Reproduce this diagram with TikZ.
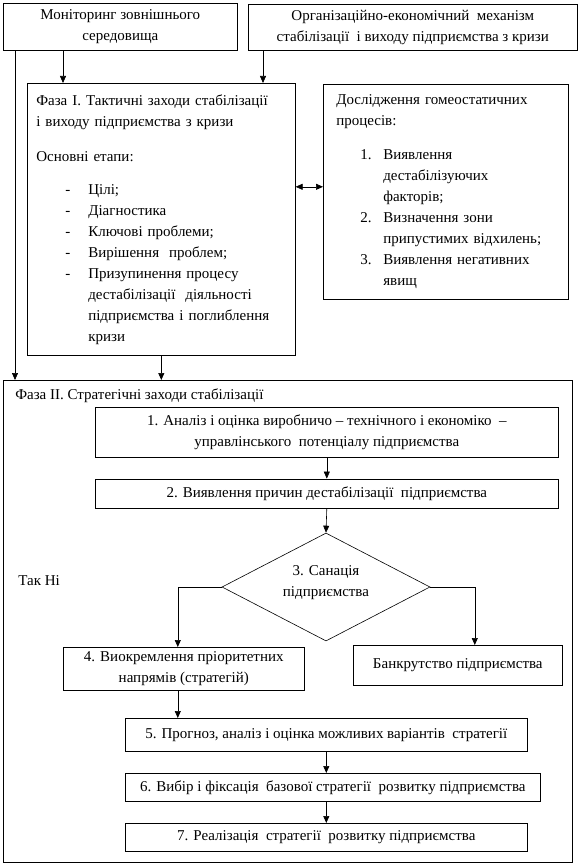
\documentclass[tikz,border=0pt]{standalone}
\usepackage{fontspec}
\setmainfont{Liberation Serif}
\usetikzlibrary{positioning, shapes.geometric, arrows.meta}

\newcommand\stp[1]{\makebox[52pt][l]{\hspace*{29pt}-}#1}
\newcommand\nmb[2]{\makebox[47pt][l]{\hspace*{24pt}#1}#2}

\tikzset{
  box/.style={draw, anchor=north west, inner sep=0pt, align=center,
    font=\fontsize{15}{21}\selectfont},
  txt/.style={anchor=base west, inner sep=0pt, font=\fontsize{15}{21}\selectfont},
  >={Triangle[length=7pt,width=6pt]},
}

\begin{document}
\begin{tikzpicture}[x=1pt, y=1pt, line width=0.6pt]

        \useasboundingbox (0,0) rectangle (580,-864);

        % top
        \node[box, minimum width=234, minimum height=47] (mon) at (3,-3)
            {Моніторинг зовнішнього\\середовища};
        \node[box, minimum width=329, minimum height=46] (org) at (248,-4)
            {Організаційно-економічний\ \ механізм\\стабілізації\ \ і виходу підприємства з кризи};

        % phase I
        \node[box, align=left, text width=250, inner xsep=9pt, minimum width=268, minimum height=272] (ph1) at (27,-83)
            {Фаза I. Тактичні заходи стабілізації\\
             і виходу підприємства з кризи\\[14pt]
             Основні етапи:\\[12pt]
             \stp{Цілі;}\\
             \stp{Діагностика}\\
             \stp{Ключові проблеми;}\\
             \stp{Вирішення\ \ проблем;}\\
             \stp{Призупинення процесу}\\
             \hspace*{52pt}дестабілізації\ \ діяльності\\
             \hspace*{52pt}підприємства і поглиблення\\
             \hspace*{52pt}кризи};
        \node[box, align=left, text width=219, inner xsep=13pt, minimum width=245, minimum height=215] (hom) at (323,-84)
            {Дослідження гомеостатичних\\
             процесів:\\[13pt]
             \nmb{1.}{Виявлення}\\
             \hspace*{47pt}дестабілізуючих\\
             \hspace*{47pt}факторів;\\
             \nmb{2.}{Визначення зони}\\
             \hspace*{47pt}припустимих відхилень;\\
             \nmb{3.}{Виявлення негативних}\\
             \hspace*{47pt}явищ};

        % phase II
        \node[box, minimum width=569, minimum height=482] (ph2) at (3,-380) {};
        \node[txt] (ph2t) at (15,-399) {Фаза II. Стратегічні заходи стабілізації};
        \node[txt] (yn) at (18,-585) {Так Ні};

        \node[box, minimum width=463, minimum height=50] (s1) at (95,-407)
            {1. Аналіз і оцінка виробничо – технічного і економіко\ \ –\\управлінського\ \ потенціалу підприємства};
        \node[box, minimum width=463, minimum height=29] (s2) [below=21pt of s1]
            {2. Виявлення причин дестабілізації\ \ підприємства};
        \node[box, diamond, anchor=center, minimum width=208, minimum height=108] (dia) at (326,-587) {};
        \node[box, draw=none, anchor=center] (diat) at ([yshift=4pt]dia.center)
            {3. Санація\\підприємства};
        \node[box, minimum width=241, minimum height=43] (s4) at (63,-647)
            {4. Виокремлення пріоритетних\\напрямів (стратегій)};
        \node[box, minimum width=209, minimum height=40] (bank) at (353,-645)
            {Банкрутство підприємства};
        \node[box, minimum width=402, minimum height=33] (s5) at (125,-718)
            {5. Прогноз, аналіз і оцінка можливих варіантів\ \ стратегії};
        \node[box, minimum width=415, minimum height=28] (s6) at (125,-773)
            {6. Вибір і фіксація\ \ базової стратегії\ \ розвитку підприємства};
        \node[box, minimum width=402, minimum height=28] (s7) at (125,-823)
            {7. Реалізація\ \ стратегії\ \ розвитку підприємства};

        % connectors
        \draw[->] ([xshift=60pt]mon.south west) -- ([xshift=60pt]mon.south west |- ph1.north);
        \draw[->] ([xshift=15pt]org.south west) -- ([xshift=15pt]org.south west |- ph1.north);
        \draw[->] ([xshift=12pt]mon.south west) -- ([xshift=12pt]ph2.north west);
        \draw[->] (ph1.south) -- (ph1.south |- ph2.north);
        \draw[<->] ([yshift=5pt]hom.west -| ph1.east) -- ([yshift=5pt]hom.west);

        \path[->]
        (s1.south) edge (s2.north)
        (s2.south) edge (dia.north)
        (s5.south) edge (s5.south |- s6.north)
        (s7.north |- s6.south) edge (s7.north);

        \draw[->] (dia.west) -| ([xshift=-6pt]s4.north);
        \draw[->] (dia.east) -| ([xshift=17pt]bank.north);
        \draw[->] ([xshift=-6pt]s4.south) -- ([xshift=-6pt]s4.south |- s5.north);

\end{tikzpicture}
\end{document}
